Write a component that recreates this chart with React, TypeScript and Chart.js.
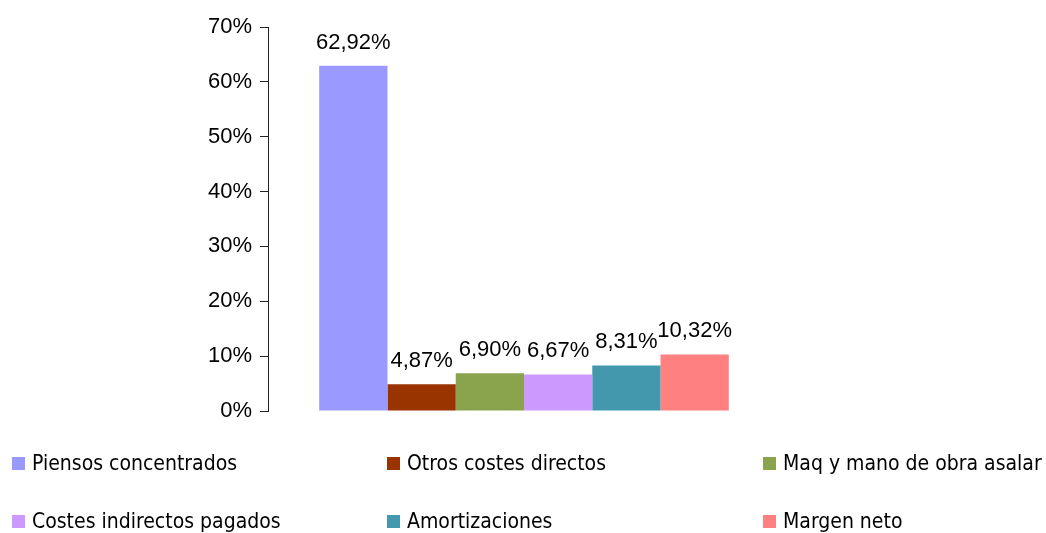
import React, { useEffect, useRef } from "react";
import { Chart, registerables } from "chart.js";

Chart.register(...registerables);

const categories = [""];
const seriesNames = [
  "Piensos concentrados",
  "Otros costes directos",
  "Maq y mano de obra asalar",
  "Costes indirectos pagados",
  "Amortizaciones",
  "Margen neto",
];
const seriesValues = [62.92, 4.87, 6.9, 6.67, 8.31, 10.32];
const seriesColors = ["#9999FF", "#993300", "#8AA44E", "#CC99FF", "#4398AE", "#FF8080"];
const yTicks = [0, 10, 20, 30, 40, 50, 60, 70];

const fmt = (v: number) => v.toFixed(2).replace(".", ",") + "%";

const labelPlugin = {
  id: "barLabels",
  afterDatasetsDraw(chart: any) {
    const ctx = chart.ctx;
    ctx.save();
    ctx.font = '22px "Liberation Sans", Arial, sans-serif';
    ctx.fillStyle = "#000";
    ctx.textAlign = "center";
    ctx.textBaseline = "alphabetic";
    chart.data.datasets.forEach((ds: any, i: number) => {
      const meta = chart.getDatasetMeta(i);
      const el = meta.data[0];
      if (!el) return;
      ctx.fillText(fmt(ds.data[0]), el.x, el.y - 17);
    });
    ctx.restore();
  },
};

export default function App() {
  const ref = useRef<HTMLCanvasElement>(null);
  useEffect(() => {
    if (!ref.current) return;
    const chart = new Chart(ref.current, {
      type: "bar",
      data: {
        labels: categories,
        datasets: seriesNames.map((n, i) => ({
          label: n,
          data: [seriesValues[i]],
          backgroundColor: seriesColors[i],
          borderWidth: 0,
          categoryPercentage: 0.8,
          barPercentage: 1,
        })),
      },
      options: {
        animation: false,
        responsive: false,
        devicePixelRatio: 1,
        layout: { padding: { top: 27, right: 266, bottom: 122, left: 0 } },
        plugins: { legend: { display: false }, tooltip: { enabled: false } },
        scales: {
          x: { display: false },
          y: {
            min: 0,
            max: 70,
            afterFit: (s: any) => {
              s.width = 268;
            },
            afterBuildTicks: (s: any) => {
              s.ticks = yTicks.map((v) => ({ value: v }));
            },
            border: { display: true, color: "#222", width: 1 },
            grid: { display: true, drawOnChartArea: false, drawTicks: true, tickLength: 8, color: "#222" },
            ticks: {
              padding: 8,
              color: "#000",
              font: { family: '"Liberation Sans", Arial, sans-serif', size: 22 },
              callback: (v: any) => v + "%",
            },
          },
        },
      },
      plugins: [labelPlugin],
    });
    return () => chart.destroy();
  }, []);

  const legendPos = [
    { x: 12, y: 463 },
    { x: 387, y: 463 },
    { x: 763, y: 463 },
    { x: 12, y: 521 },
    { x: 387, y: 521 },
    { x: 763, y: 521 },
  ];

  return (
    <div style={{ position: "absolute", left: 0, top: 0, width: 1046, height: 533, background: "#fff", overflow: "hidden" }}>
      <canvas ref={ref} width={1046} height={533} style={{ position: "absolute", left: 0, top: 0, width: 1046, height: 533 }} />
      {seriesNames.map((n, i) => (
        <div
          key={n}
          style={{
            position: "absolute",
            left: legendPos[i].x,
            top: legendPos[i].y - 15,
            height: 30,
            display: "flex",
            alignItems: "center",
            whiteSpace: "nowrap",
            fontFamily: '"DejaVu Sans Condensed", "DejaVu Sans", sans-serif',
            fontSize: 21,
            color: "#000",
          }}
        >
          <span style={{ display: "inline-block", width: 13, height: 13, background: seriesColors[i], marginRight: 7 }} />
          <span>{n}</span>
        </div>
      ))}
    </div>
  );
}
